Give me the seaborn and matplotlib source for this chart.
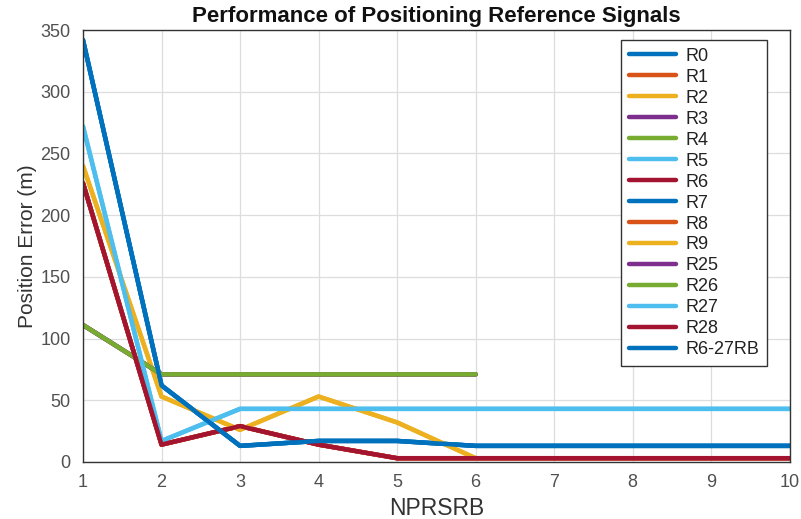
import numpy as np
import pandas as pd
import matplotlib
matplotlib.use("Agg")
import matplotlib.pyplot as plt
import seaborn as sns

# ---- data ----
nprsrb = [1, 2, 3, 4, 5, 6, 7, 8, 9, 10]
series_names = ["R0", "R1", "R2", "R3", "R4", "R5", "R6", "R7", "R8", "R9",
                "R25", "R26", "R27", "R28", "R6-27RB"]

blue_vals   = [342, 62, 13, 17, 17, 13, 13, 13, 13, 13]
red_vals    = [226, 14, 29, 14, 3, 3, 3, 3, 3, 3]
yellow_vals = [240, 53, 26, 53, 32, 3, np.nan, np.nan, np.nan, np.nan]
green_vals  = [111, 71, 71, 71, 71, 71, np.nan, np.nan, np.nan, np.nan]
cyan_vals   = [272, 17, 43, 43, 43, 43, 43, 43, 43, 43]

series_values = {
    "R0": blue_vals, "R1": red_vals, "R2": yellow_vals, "R3": green_vals,
    "R4": green_vals, "R5": cyan_vals, "R6": red_vals, "R7": blue_vals,
    "R8": red_vals, "R9": yellow_vals, "R25": green_vals, "R26": green_vals,
    "R27": cyan_vals, "R28": red_vals, "R6-27RB": blue_vals,
}

x_ticks = [1, 2, 3, 4, 5, 6, 7, 8, 9, 10]
y_ticks = [0, 50, 100, 150, 200, 250, 300, 350]

# ---- build long table ----
rows = []
for name in series_names:
    for xv, yv in zip(nprsrb, series_values[name]):
        rows.append({"NPRSRB": xv, "Error": yv, "Series": name})
df = pd.DataFrame(rows).dropna()

matlab = ["#0072BD", "#D95319", "#EDB120", "#7E2F8E", "#77AC30", "#4DBEEE", "#A2142F"]
palette = {name: matlab[i % 7] for i, name in enumerate(series_names)}

sns.set_theme(style="whitegrid")
plt.rcParams["font.family"] = ["Liberation Sans", "DejaVu Sans"]

fig = plt.figure(figsize=(8.01, 5.19), dpi=100)
ax = fig.add_axes([0.1036, 0.110, 0.8824, 0.832])

for name in series_names:
    sub = df[df["Series"] == name]
    sns.lineplot(data=sub, x="NPRSRB", y="Error", color=palette[name],
                 linewidth=3.2, ax=ax, label=name, sort=False, estimator=None)

ax.set_xlim(1, 10)
ax.set_ylim(0, 350)
ax.set_xticks(x_ticks)
ax.set_yticks(y_ticks)
ax.tick_params(axis="both", labelsize=13, colors="#555555", direction="in",
               length=4, labelcolor="#505050")
ax.tick_params(axis="x", pad=9)
ax.tick_params(axis="y", pad=9)
ax.grid(True, color="#dddddd", linewidth=0.9)
for s in ax.spines.values():
    s.set_color("#333333")
    s.set_linewidth(1.0)
ax.set_facecolor("white")

ax.set_xlabel("NPRSRB", fontsize=16.5, color="#333333", labelpad=4)
ax.set_ylabel("Position Error (m)", fontsize=15, color="#333333", labelpad=2)
ax.set_title("Performance of Positioning Reference Signals", fontsize=16,
             fontweight="bold", color="#111111", pad=6)

leg = ax.legend(loc="upper right", bbox_to_anchor=(0.968, 0.978), fontsize=13,
                frameon=True, fancybox=False, handlelength=2.6, handletextpad=0.5,
                labelspacing=0.22, borderpad=0.45, borderaxespad=0.0)
leg.get_frame().set_edgecolor("#333333")
leg.get_frame().set_linewidth(1.0)
leg.get_frame().set_alpha(1.0)
for t in leg.get_texts():
    t.set_color("#222222")

fig.savefig("out.png", dpi=100, facecolor="white")
